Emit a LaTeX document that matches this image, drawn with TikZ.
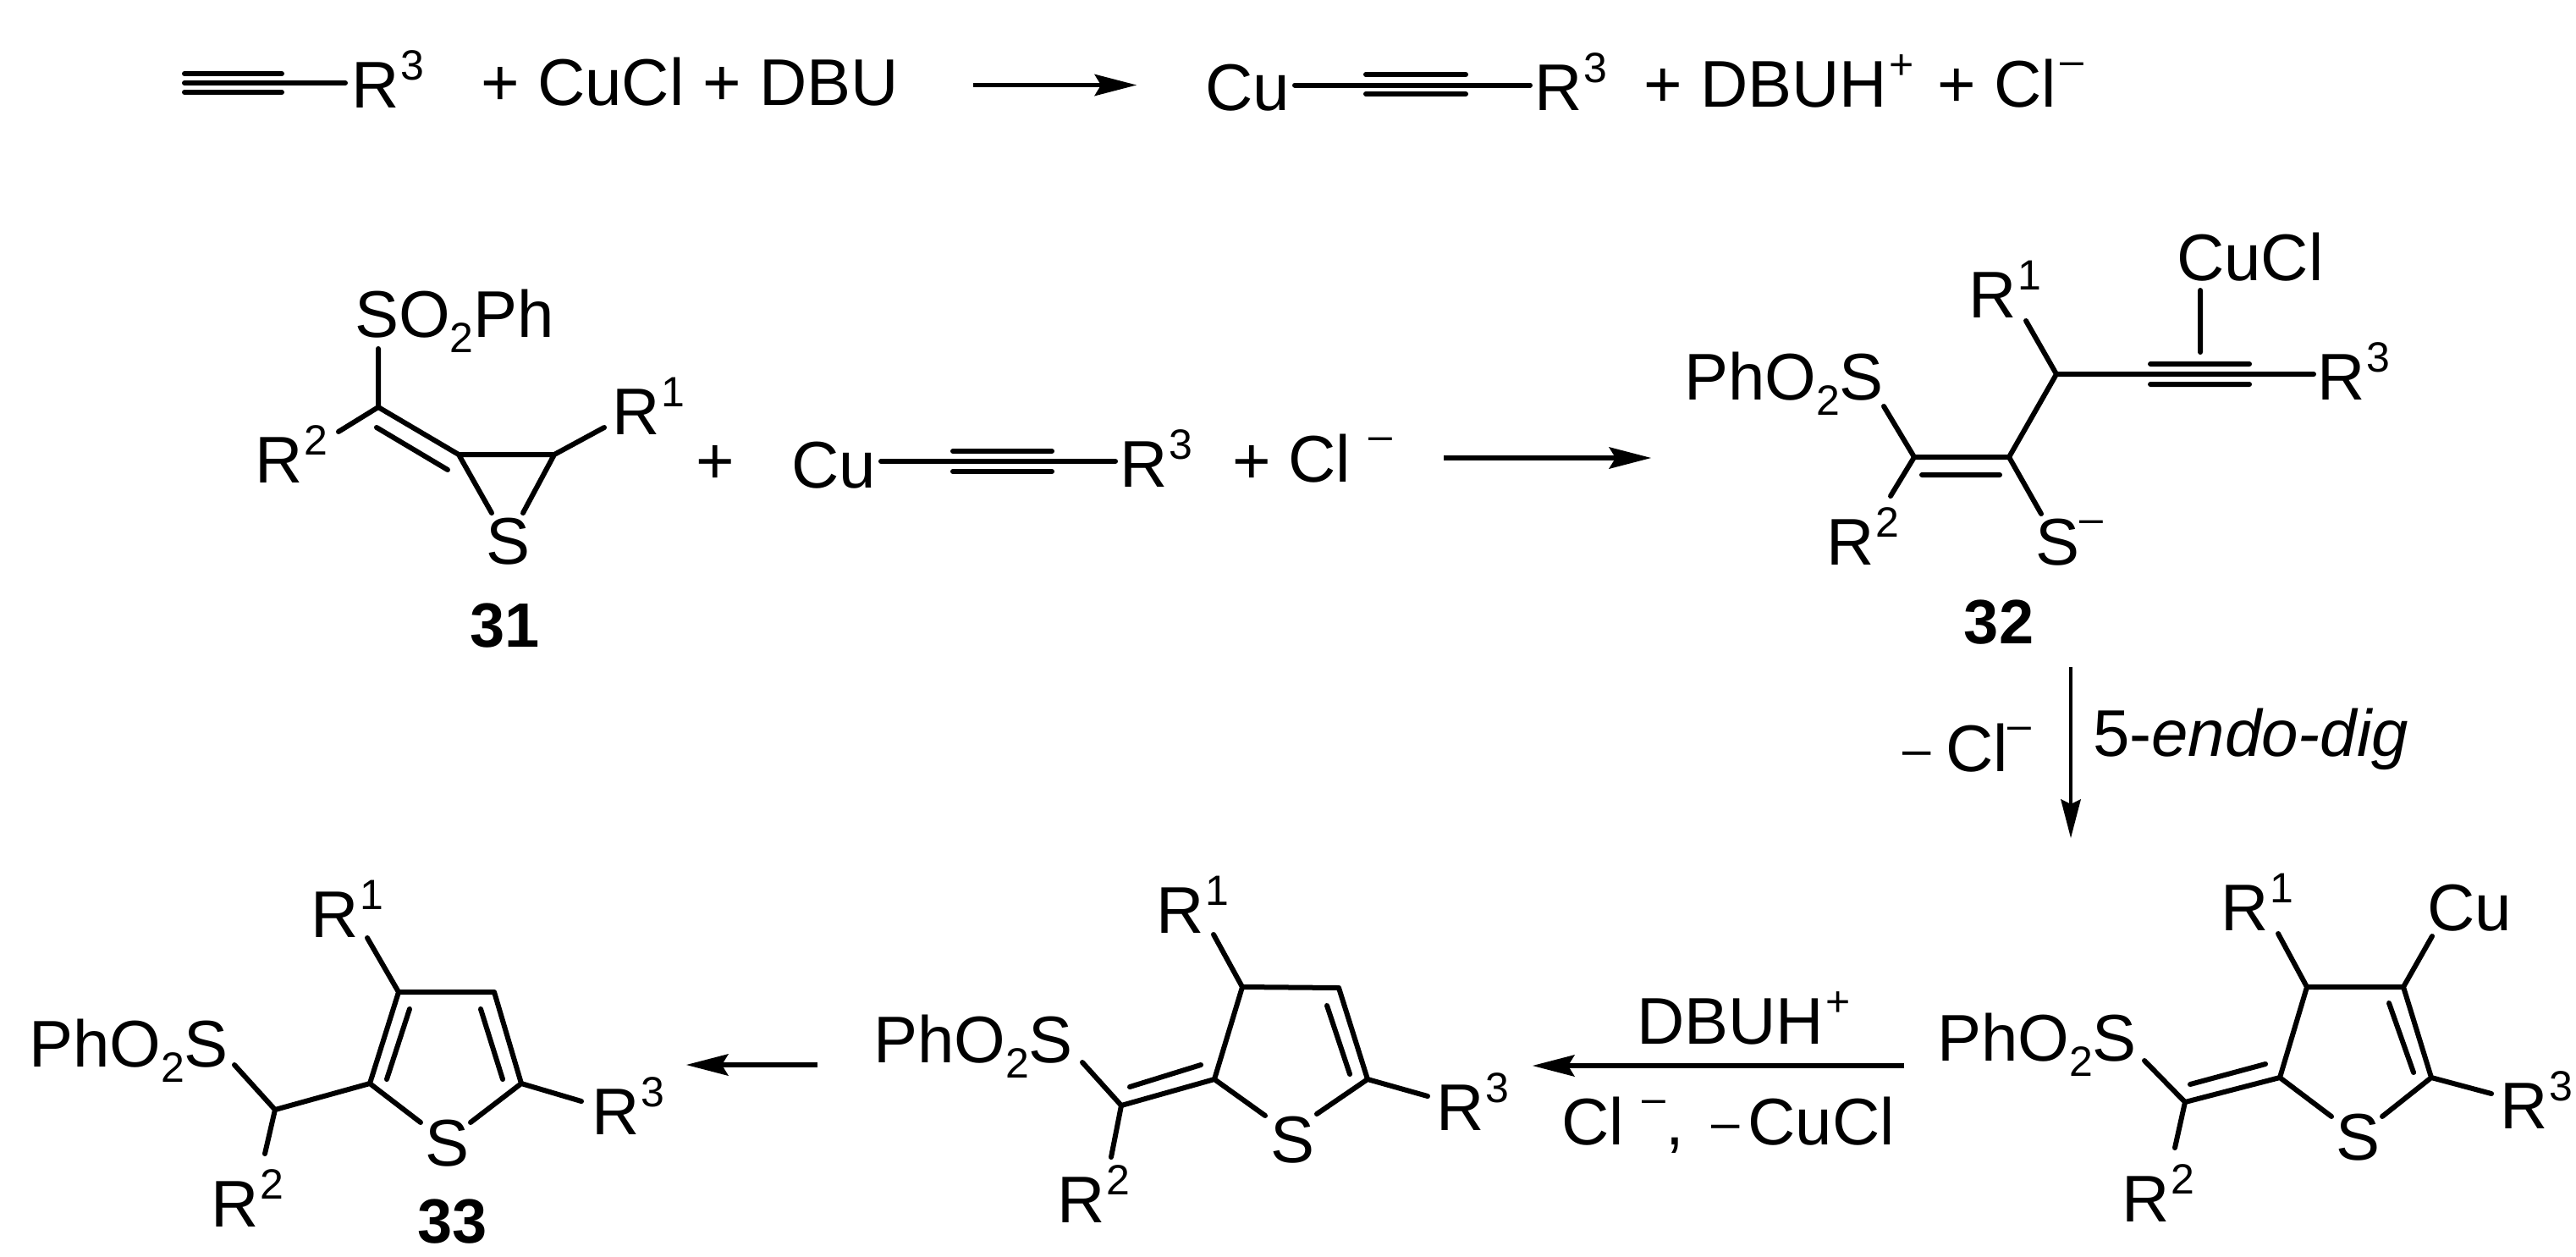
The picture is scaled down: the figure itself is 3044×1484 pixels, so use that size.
\documentclass[tikz,border=0pt]{standalone}
\usepackage{fontspec}
\setmainfont{Liberation Sans}
\usetikzlibrary{arrows.meta}
\newcommand{\up}[1]{\hspace{1pt}\raisebox{16.5pt}{\fontsize{25}{25}\selectfont #1}}
\newcommand{\upm}{\raisebox{19pt}{\fontsize{25}{25}\selectfont –}}
\newcommand{\midm}{\raisebox{3pt}{\fontsize{30}{30}\selectfont –}}
\newcommand{\dn}[1]{\raisebox{-9pt}{\fontsize{25}{25}\selectfont #1}}
\tikzset{
  x=0.5pt,y=-0.5pt,
  lbl/.style={anchor=base west,inner sep=0pt,outer sep=0pt,xshift=-2.5pt,font=\fontsize{39}{39}\selectfont},
  cmpd/.style={anchor=base,inner sep=0pt,outer sep=0pt,font=\fontsize{37}{37}\selectfont\bfseries},
  bond/.style={line width=3pt,line cap=round,line join=round},
  rxn/.style={line width=2.8pt,-{Stealth[length=25pt,width=13pt,inset=4pt,line width=0pt]}},
  rxnthin/.style={line width=2pt,-{Stealth[length=23pt,width=12pt,inset=3pt,line width=0pt]}}
}
\begin{document}
\begin{tikzpicture}
\useasboundingbox (0,0) rectangle (3044,1484);
% ---------- top row
\node[lbl] (r3a) at (420,127) {R\up{3}};
\node[lbl] (plusa) at (573,124) {+ CuCl + DBU};
\node[lbl] (cua) at (1429,130) {Cu};
\node[lbl] (r3b) at (1818,130) {R\up{3}};
\node[lbl] (plusb) at (1947,126) {+ DBUH\up{+}\hspace{3pt} + Cl\hspace{2pt}\upm};
\coordinate (a1) at (218,98); \coordinate (a2) at (408,98);
\coordinate (a3) at (218,87); \coordinate (a4) at (333,87);
\coordinate (a5) at (218,109); \coordinate (a6) at (333,109);
\draw[bond] (a1)--(a2) (a3)--(a4) (a5)--(a6);
\coordinate (ar1s) at (1150,100.5); \coordinate (ar1e) at (1343,100.5);
\draw[rxn] (ar1s)--(ar1e);
\coordinate (b1) at (1530,100.5); \coordinate (b2) at (1808,100.5);
\coordinate (b3) at (1614,88); \coordinate (b4) at (1732,88);
\coordinate (b5) at (1614,111); \coordinate (b6) at (1732,111);
\draw[bond] (b1)--(b2) (b3)--(b4) (b5)--(b6);
% ---------- compound 31
\node[lbl] (so31) at (424,398) {SO\dn{2}Ph};
\node[lbl] (r231) at (306,570) {R\up{2}};
\node[lbl] (r131) at (728,513) {R\up{1}};
\node[lbl] (s31) at (579,666) {S};
\node[cmpd] (n31) at (597,764) {31};
\coordinate (c1) at (447,481); \coordinate (c2) at (542,537); \coordinate (c3) at (655,537);
\coordinate (c4) at (447,412); \coordinate (c5) at (400,510); \coordinate (c6) at (714,505);
\coordinate (c7) at (581,606); \coordinate (c8) at (618,606);
\coordinate (c9) at (445,505); \coordinate (c10) at (529,555);
\draw[bond] (c4)--(c1)--(c2)--(c3)--(c6) (c1)--(c5) (c2)--(c7) (c3)--(c8) (c9)--(c10);
\node[lbl] (plusc) at (827,571) {+};
\node[lbl] (cuc) at (940,576) {Cu};
\node[lbl] (r3c) at (1328,575) {R\up{3}};
\node[lbl] (plusd) at (1461,571) {+};
\node[lbl] (clc) at (1527,569) {Cl\hspace{11pt}\upm};
\coordinate (d1) at (1041,545); \coordinate (d2) at (1318,545);
\coordinate (d3) at (1126,533); \coordinate (d4) at (1243,533);
\coordinate (d5) at (1126,557); \coordinate (d6) at (1243,557);
\draw[bond] (d1)--(d2) (d3)--(d4) (d5)--(d6);
\coordinate (ar2s) at (1706,541); \coordinate (ar2e) at (1951,541);
\draw[rxn] (ar2s)--(ar2e);
% ---------- compound 32
\node[lbl] (so32) at (1995,472) {PhO\dn{2}S};
\node[lbl] (cucl32) at (2577,331) {CuCl};
\node[lbl] (r132) at (2331,375) {R\up{1}};
\node[lbl] (r332) at (2743,472) {R\up{3}};
\node[lbl] (r232) at (2163,667) {R\up{2}};
\node[lbl] (s32) at (2410,667) {S\upm};
\node[cmpd] (n32) at (2362,760) {32};
\coordinate (e1) at (2262,540); \coordinate (e2) at (2374,540); \coordinate (e3) at (2430,442);
\coordinate (e4) at (2226,480); \coordinate (e5) at (2234,586); \coordinate (e6) at (2412,607);
\coordinate (e7) at (2394,379); \coordinate (e8) at (2734,442);
\coordinate (e9) at (2541,430); \coordinate (e10) at (2658,430);
\coordinate (e11) at (2541,454); \coordinate (e12) at (2658,454);
\coordinate (e13) at (2600,343); \coordinate (e14) at (2600,416);
\coordinate (e15) at (2271,561); \coordinate (e16) at (2363,561);
\draw[bond] (e4)--(e1)--(e2)--(e3)--(e8) (e1)--(e5) (e2)--(e6) (e3)--(e7)
  (e9)--(e10) (e11)--(e12) (e13)--(e14) (e15)--(e16);
% ---------- vertical arrow
\coordinate (ar3s) at (2447,788); \coordinate (ar3e) at (2447,990);
\draw[rxnthin] (ar3s)--(ar3e);
\node[lbl] (mcl) at (2253,911) {\midm};
\node[lbl] (cl3) at (2304,911) {Cl\upm};
\node[lbl] (endo) at (2478,893) {5-\textit{endo-dig}};
% ---------- right compound
\node[lbl] (r1r) at (2629,1099) {R\up{1}};
\node[lbl] (cur) at (2873,1099) {Cu};
\node[lbl] (sr) at (2765,1370) {S};
\node[lbl] (r3r) at (2959,1333) {R\up{3}};
\node[lbl] (sor) at (2294,1253) {PhO\dn{2}S};
\node[lbl] (r2r) at (2512,1443) {R\up{2}};
\coordinate (f1) at (2726,1166); \coordinate (f2) at (2840,1166); \coordinate (f3) at (2873,1273);
\coordinate (f4) at (2694,1273); \coordinate (f5) at (2582,1302);
\coordinate (f6) at (2755,1319); \coordinate (f7) at (2815,1319);
\coordinate (f8) at (2823,1185); \coordinate (f9) at (2852,1267);
\coordinate (f10) at (2692,1103); \coordinate (f11) at (2874,1106); \coordinate (f12) at (2944,1292);
\coordinate (f13) at (2588,1281); \coordinate (f14) at (2677,1257);
\coordinate (f15) at (2534,1253); \coordinate (f16) at (2570,1356);
\draw[bond] (f6)--(f4)--(f1)--(f2)--(f3)--(f7) (f8)--(f9) (f1)--(f10) (f2)--(f11) (f3)--(f12)
  (f4)--(f5) (f13)--(f14) (f5)--(f15) (f5)--(f16);
% ---------- arrow with conditions
\coordinate (ar4s) at (2250,1259); \coordinate (ar4e) at (1811,1259);
\draw[rxn] (ar4s)--(ar4e);
\node[lbl] (dbuh) at (1939,1233) {DBUH\up{+}};
\node[lbl] (clcu) at (1850,1352) {Cl\hspace{11pt}\upm,\hspace{16pt}\midm\hspace{5pt}CuCl};
% ---------- middle compound
\node[lbl] (r1m) at (1371,1102) {R\up{1}};
\node[lbl] (sm) at (1506,1373) {S};
\node[lbl] (r3m) at (1702,1335) {R\up{3}};
\node[lbl] (som) at (1037,1255) {PhO\dn{2}S};
\node[lbl] (r2m) at (1254,1444) {R\up{2}};
\coordinate (g1) at (1468,1166); \coordinate (g2) at (1582,1167); \coordinate (g3) at (1616,1275);
\coordinate (g4) at (1435,1275); \coordinate (g5) at (1325,1306);
\coordinate (g6) at (1335,1284); \coordinate (g7) at (1419,1258);
\coordinate (g8) at (1279,1255); \coordinate (g9) at (1313,1367); \coordinate (g10) at (1434,1104);
\coordinate (g11) at (1495,1318); \coordinate (g12) at (1556,1316); \coordinate (g13) at (1687,1295);
\coordinate (g14) at (1568,1188); \coordinate (g15) at (1595,1269);
\draw[bond] (g11)--(g4)--(g1)--(g2)--(g3)--(g12) (g4)--(g5) (g6)--(g7) (g5)--(g8) (g5)--(g9)
  (g1)--(g10) (g3)--(g13) (g14)--(g15);
\coordinate (ar5s) at (966,1258); \coordinate (ar5e) at (811,1258);
\draw[rxn] (ar5s)--(ar5e);
% ---------- compound 33
\node[lbl] (r1l) at (372,1107) {R\up{1}};
\node[lbl] (sl) at (507,1377) {S};
\node[lbl] (r3l) at (704,1340) {R\up{3}};
\node[lbl] (sol) at (39,1260) {PhO\dn{2}S};
\node[lbl] (r2l) at (254,1449) {R\up{2}};
\node[cmpd] (n33) at (535,1468) {33};
\coordinate (h1) at (471,1172); \coordinate (h2) at (584,1172); \coordinate (h3) at (616,1280);
\coordinate (h4) at (437,1280); \coordinate (h5) at (325,1311);
\coordinate (h6) at (277,1258); \coordinate (h7) at (313,1363); \coordinate (h8) at (434,1108);
\coordinate (h9) at (497,1326); \coordinate (h10) at (556,1326); \coordinate (h11) at (687,1301);
\coordinate (h12) at (484,1192); \coordinate (h13) at (457,1275);
\coordinate (h14) at (568,1192); \coordinate (h15) at (594,1275);
\draw[bond] (h9)--(h4)--(h1)--(h2)--(h3)--(h10) (h4)--(h5) (h5)--(h6) (h5)--(h7) (h1)--(h8)
  (h3)--(h11) (h12)--(h13) (h14)--(h15);
\end{tikzpicture}
\end{document}
